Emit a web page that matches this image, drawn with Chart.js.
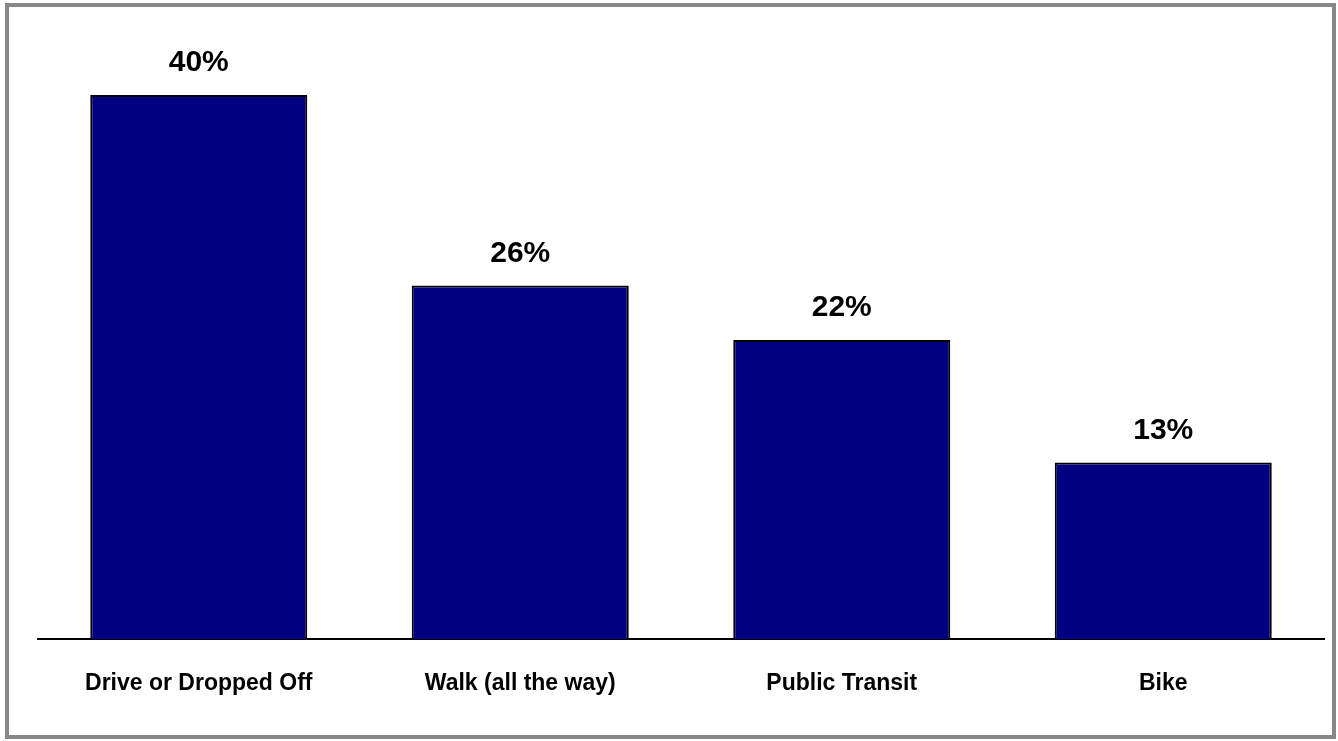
<!DOCTYPE html>
<html>
<head>
<meta charset="utf-8">
<script src="https://cdn.jsdelivr.net/npm/chart.js@4"></script>
<style>
    body { margin: 0; background: #fff; }
    #wrap { position: relative; width: 1338px; height: 741px; }
    #frame {
        position: absolute; left: 5px; top: 3px; width: 1323px; height: 728px;
        border: 4px solid #888; pointer-events: none;
    }
    canvas { position: absolute; left: 0; top: 0; }
</style>
</head>
<body>
<div id="wrap">
    <canvas id="mode-chart" width="1338" height="741"></canvas>
    <div id="frame"></div>
</div>
<script>
const categories = ['Drive or Dropped Off', 'Walk (all the way)', 'Public Transit', 'Bike'];
const shares = [40, 26, 22, 13];

// Draw the percentage above each bar
const valueLabels = {
    id: 'valueLabels',
    afterDatasetsDraw(chart) {
        const ctx = chart.ctx;
        const meta = chart.getDatasetMeta(0);
        ctx.save();
        ctx.font = 'bold 30px "Liberation Sans", Arial, sans-serif';
        ctx.fillStyle = '#000';
        ctx.textAlign = 'center';
        ctx.textBaseline = 'middle';
        meta.data.forEach((bar, i) => {
            ctx.fillText(shares[i] + '%', bar.x, bar.y - 32);
        });
        ctx.restore();
    }
};

const ctx = document.getElementById('mode-chart').getContext('2d');
new Chart(ctx, {
    type: 'bar',
    data: {
        labels: categories,
        datasets: [{
            data: shares,
            backgroundColor: '#000080',
            borderColor: '#000',
            borderWidth: 2,
            categoryPercentage: 1,
            barPercentage: 0.675
        }]
    },
    options: {
        responsive: false,
        animation: false,
        layout: {
            padding: { left: 38, right: 14, top: 27, bottom: 14 }
        },
        plugins: {
            legend: { display: false },
            tooltip: { enabled: false }
        },
        scales: {
            x: {
                grid: { display: false, drawTicks: false },
                border: { color: '#000', width: 2 },
                ticks: {
                    color: '#000',
                    padding: 30,
                    maxRotation: 0,
                    font: { family: '"Liberation Sans", Arial, sans-serif', size: 23, weight: 'bold' }
                }
            },
            y: {
                display: false,
                min: 0,
                max: 45
            }
        }
    },
    plugins: [valueLabels]
});
</script>
</body>
</html>
